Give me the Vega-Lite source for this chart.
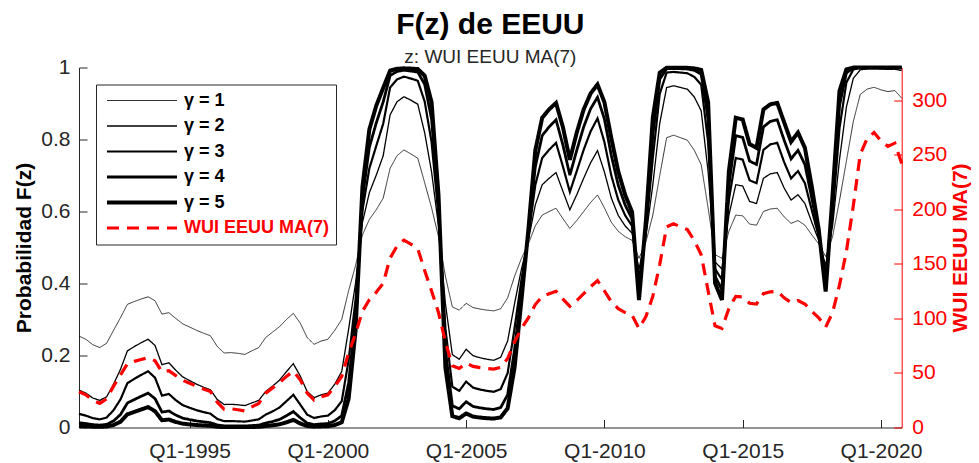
{
"$schema": "https://vega.github.io/schema/vega-lite/v6.json",
"width": 822.7,
"height": 360,
"autosize": {"type": "none"},
"padding": {"left": 79, "top": 67.5, "right": 77.3, "bottom": 35.5},
"background": "white",
"config": {"view": {"stroke": null}, "font": "Liberation Sans"},
"title": {"text": "F(z) de EEUU", "subtitle": "z: WUI EEUU MA(7)", "fontSize": 30, "fontWeight": "bold", "color": "black", "subtitleFontSize": 19, "subtitleColor": "#262626", "anchor": "middle", "offset": -10, "subtitlePadding": 8, "font": "Liberation Sans", "subtitleFont": "Liberation Sans"},
"data": {"values": [
{"t":1991,"g1":0.254,"g2":0.1039,"g3":0.038,"g4":0.0133,"g5":0.0046,"wui":32.8},
{"t":1991.25,"g1":0.245,"g2":0.0953,"g3":0.033,"g4":0.011,"g5":0.0036,"wui":29.9},
{"t":1991.5,"g1":0.23,"g2":0.0819,"g3":0.026,"g4":0.0079,"g5":0.0024,"wui":24.9},
{"t":1991.75,"g1":0.222,"g2":0.0753,"g3":0.0227,"g4":0.0066,"g5":0.0019,"wui":22.1},
{"t":1992,"g1":0.234,"g2":0.0854,"g3":0.0277,"g4":0.0086,"g5":0.0027,"wui":26.2},
{"t":1992.25,"g1":0.27,"g2":0.1204,"g3":0.0482,"g4":0.0184,"g5":0.0069,"wui":37.8},
{"t":1992.5,"g1":0.305,"g2":0.1615,"g3":0.0779,"g4":0.0358,"g5":0.016,"wui":48.2},
{"t":1992.75,"g1":0.342,"g2":0.2127,"g3":0.1231,"g4":0.068,"g5":0.0366,"wui":58.4},
{"t":1993,"g1":0.35,"g2":0.2248,"g3":0.1351,"g4":0.0776,"g5":0.0433,"wui":60.6},
{"t":1993.25,"g1":0.357,"g2":0.2356,"g3":0.1461,"g4":0.0868,"g5":0.0501,"wui":62.4},
{"t":1993.5,"g1":0.363,"g2":0.2452,"g3":0.1562,"g4":0.0954,"g5":0.0567,"wui":64.0},
{"t":1993.75,"g1":0.352,"g2":0.2278,"g3":0.1382,"g4":0.0801,"g5":0.0452,"wui":61.1},
{"t":1994,"g1":0.315,"g2":0.1746,"g3":0.0886,"g4":0.0428,"g5":0.0202,"wui":51.0},
{"t":1994.25,"g1":0.319,"g2":0.1799,"g3":0.0932,"g4":0.0459,"g5":0.0221,"wui":52.1},
{"t":1994.5,"g1":0.303,"g2":0.159,"g3":0.0759,"g4":0.0345,"g5":0.0153,"wui":47.6},
{"t":1994.75,"g1":0.288,"g2":0.1406,"g3":0.0621,"g4":0.0261,"g5":0.0107,"wui":43.3},
{"t":1995,"g1":0.279,"g2":0.1303,"g3":0.0548,"g4":0.0219,"g5":0.0086,"wui":40.6},
{"t":1995.25,"g1":0.27,"g2":0.1204,"g3":0.0482,"g4":0.0184,"g5":0.0069,"wui":37.8},
{"t":1995.5,"g1":0.262,"g2":0.1119,"g3":0.0428,"g4":0.0156,"g5":0.0056,"wui":35.3},
{"t":1995.75,"g1":0.255,"g2":0.1049,"g3":0.0386,"g4":0.0135,"g5":0.0047,"wui":33.1},
{"t":1996,"g1":0.225,"g2":0.0777,"g3":0.0239,"g4":0.0071,"g5":0.0021,"wui":23.2},
{"t":1996.25,"g1":0.207,"g2":0.0638,"g3":0.0175,"g4":0.0046,"g5":0.0012,"wui":16.7},
{"t":1996.5,"g1":0.208,"g2":0.0645,"g3":0.0178,"g4":0.0047,"g5":0.0012,"wui":17.1},
{"t":1996.75,"g1":0.206,"g2":0.0631,"g3":0.0172,"g4":0.0045,"g5":0.0012,"wui":16.3},
{"t":1997,"g1":0.203,"g2":0.0609,"g3":0.0163,"g4":0.0042,"g5":0.0011,"wui":15.2},
{"t":1997.25,"g1":0.213,"g2":0.0682,"g3":0.0194,"g4":0.0053,"g5":0.0015,"wui":18.9},
{"t":1997.5,"g1":0.222,"g2":0.0753,"g3":0.0227,"g4":0.0066,"g5":0.0019,"wui":22.1},
{"t":1997.75,"g1":0.25,"g2":0.1,"g3":0.0357,"g4":0.0122,"g5":0.0041,"wui":31.5},
{"t":1998,"g1":0.265,"g2":0.115,"g3":0.0448,"g4":0.0166,"g5":0.0061,"wui":36.3},
{"t":1998.25,"g1":0.28,"g2":0.1314,"g3":0.0555,"g4":0.0224,"g5":0.0088,"wui":40.9},
{"t":1998.5,"g1":0.3,"g2":0.1552,"g3":0.073,"g4":0.0326,"g5":0.0143,"wui":46.8},
{"t":1998.75,"g1":0.317,"g2":0.1772,"g3":0.0909,"g4":0.0443,"g5":0.0211,"wui":51.6},
{"t":1999,"g1":0.29,"g2":0.143,"g3":0.0638,"g4":0.0271,"g5":0.0112,"wui":43.8},
{"t":1999.25,"g1":0.25,"g2":0.1,"g3":0.0357,"g4":0.0122,"g5":0.0041,"wui":31.5},
{"t":1999.5,"g1":0.231,"g2":0.0828,"g3":0.0264,"g4":0.0081,"g5":0.0024,"wui":25.2},
{"t":1999.75,"g1":0.24,"g2":0.0907,"g3":0.0305,"g4":0.0098,"g5":0.0031,"wui":28.2},
{"t":2000,"g1":0.245,"g2":0.0953,"g3":0.033,"g4":0.011,"g5":0.0036,"wui":29.9},
{"t":2000.25,"g1":0.27,"g2":0.1204,"g3":0.0482,"g4":0.0184,"g5":0.0069,"wui":37.8},
{"t":2000.5,"g1":0.3,"g2":0.1552,"g3":0.073,"g4":0.0326,"g5":0.0143,"wui":46.8},
{"t":2000.75,"g1":0.38,"g2":0.2731,"g3":0.1871,"g4":0.1236,"g5":0.0796,"wui":68.4},
{"t":2001,"g1":0.45,"g2":0.401,"g3":0.3539,"g4":0.3094,"g5":0.2683,"wui":85.9},
{"t":2001.25,"g1":0.535,"g2":0.5697,"g3":0.6036,"g4":0.6366,"g5":0.6684,"wui":106.6},
{"t":2001.5,"g1":0.578,"g2":0.6523,"g3":0.7199,"g4":0.7787,"g5":0.8282,"wui":117.2},
{"t":2001.75,"g1":0.605,"g2":0.7011,"g3":0.7823,"g4":0.8462,"g5":0.8939,"wui":123.9},
{"t":2002,"g1":0.637,"g2":0.7549,"g3":0.8438,"g4":0.9046,"g5":0.9433,"wui":132.2},
{"t":2002.25,"g1":0.72,"g2":0.8686,"g3":0.9444,"g4":0.9776,"g5":0.9912,"wui":155.3},
{"t":2002.5,"g1":0.755,"g2":0.9047,"g3":0.967,"g4":0.989,"g5":0.9964,"wui":166.3},
{"t":2002.75,"g1":0.771,"g2":0.9189,"g3":0.9745,"g4":0.9923,"g5":0.9977,"wui":171.7},
{"t":2003,"g1":0.76,"g2":0.9093,"g3":0.9695,"g4":0.9902,"g5":0.9969,"wui":168.0},
{"t":2003.25,"g1":0.748,"g2":0.8981,"g3":0.9632,"g4":0.9873,"g5":0.9957,"wui":164.0},
{"t":2003.5,"g1":0.68,"g2":0.8187,"g3":0.9056,"g4":0.9532,"g5":0.9774,"wui":143.8},
{"t":2003.75,"g1":0.61,"g2":0.7098,"g3":0.7928,"g4":0.8568,"g5":0.9035,"wui":125.2},
{"t":2004,"g1":0.53,"g2":0.5598,"g3":0.5892,"g4":0.6179,"g5":0.6459,"wui":105.4},
{"t":2004.25,"g1":0.42,"g2":0.344,"g3":0.2752,"g4":0.2157,"g5":0.1661,"wui":78.5},
{"t":2004.5,"g1":0.335,"g2":0.2024,"g3":0.1134,"g4":0.0605,"g5":0.0314,"wui":56.6},
{"t":2004.75,"g1":0.326,"g2":0.1896,"g3":0.1017,"g4":0.0519,"g5":0.0258,"wui":54.1},
{"t":2005,"g1":0.345,"g2":0.2172,"g3":0.1275,"g4":0.0715,"g5":0.039,"wui":59.2},
{"t":2005.25,"g1":0.333,"g2":0.1995,"g3":0.1107,"g4":0.0585,"g5":0.0301,"wui":56.0},
{"t":2005.5,"g1":0.329,"g2":0.1938,"g3":0.1055,"g4":0.0546,"g5":0.0276,"wui":54.9},
{"t":2005.75,"g1":0.326,"g2":0.1896,"g3":0.1017,"g4":0.0519,"g5":0.0258,"wui":54.1},
{"t":2006,"g1":0.324,"g2":0.1868,"g3":0.0992,"g4":0.0501,"g5":0.0247,"wui":53.5},
{"t":2006.25,"g1":0.33,"g2":0.1952,"g3":0.1067,"g4":0.0556,"g5":0.0282,"wui":55.2},
{"t":2006.5,"g1":0.36,"g2":0.2404,"g3":0.1511,"g4":0.091,"g5":0.0533,"wui":63.2},
{"t":2006.75,"g1":0.42,"g2":0.344,"g3":0.2752,"g4":0.2157,"g5":0.1661,"wui":78.5},
{"t":2007,"g1":0.47,"g2":0.4402,"g3":0.4109,"g4":0.3821,"g5":0.3542,"wui":90.8},
{"t":2007.25,"g1":0.51,"g2":0.52,"g3":0.53,"g4":0.5399,"g5":0.5498,"wui":100.5},
{"t":2007.5,"g1":0.56,"g2":0.6183,"g3":0.6734,"g4":0.724,"g5":0.7695,"wui":112.7},
{"t":2007.75,"g1":0.59,"g2":0.6744,"g3":0.7487,"g4":0.8109,"g5":0.8605,"wui":120.2},
{"t":2008,"g1":0.6,"g2":0.6923,"g3":0.7714,"g4":0.8351,"g5":0.8836,"wui":122.7},
{"t":2008.25,"g1":0.609,"g2":0.7081,"g3":0.7907,"g4":0.8548,"g5":0.9016,"wui":124.9},
{"t":2008.5,"g1":0.58,"g2":0.656,"g3":0.7248,"g4":0.7844,"g5":0.834,"wui":117.7},
{"t":2008.75,"g1":0.553,"g2":0.6048,"g3":0.6544,"g4":0.7008,"g5":0.7434,"wui":111.0},
{"t":2009,"g1":0.575,"g2":0.6467,"g3":0.7123,"g4":0.7701,"g5":0.8193,"wui":116.4},
{"t":2009.25,"g1":0.6,"g2":0.6923,"g3":0.7714,"g4":0.8351,"g5":0.8836,"wui":122.7},
{"t":2009.5,"g1":0.625,"g2":0.7353,"g3":0.8224,"g4":0.8853,"g5":0.9279,"wui":129.1},
{"t":2009.75,"g1":0.646,"g2":0.7691,"g3":0.8587,"g4":0.9173,"g5":0.9529,"wui":134.6},
{"t":2010,"g1":0.61,"g2":0.7098,"g3":0.7928,"g4":0.8568,"g5":0.9035,"wui":125.2},
{"t":2010.25,"g1":0.57,"g2":0.6373,"g3":0.6996,"g4":0.7554,"g5":0.8037,"wui":115.2},
{"t":2010.5,"g1":0.545,"g2":0.5893,"g3":0.6322,"g4":0.673,"g5":0.7114,"wui":109.0},
{"t":2010.75,"g1":0.53,"g2":0.5598,"g3":0.5892,"g4":0.6179,"g5":0.6459,"wui":105.4},
{"t":2011,"g1":0.52,"g2":0.5399,"g3":0.5597,"g4":0.5793,"g5":0.5987,"wui":103.0},
{"t":2011.25,"g1":0.47,"g2":0.4402,"g3":0.4109,"g4":0.3821,"g5":0.3542,"wui":90.8},
{"t":2011.5,"g1":0.515,"g2":0.53,"g3":0.545,"g4":0.5598,"g5":0.5745,"wui":101.7},
{"t":2011.75,"g1":0.59,"g2":0.6744,"g3":0.7487,"g4":0.8109,"g5":0.8605,"wui":120.2},
{"t":2012,"g1":0.7,"g2":0.8448,"g3":0.927,"g4":0.9674,"g5":0.9857,"wui":149.4},
{"t":2012.25,"g1":0.805,"g2":0.9446,"g3":0.986,"g4":0.9966,"g5":0.9992,"wui":184.0},
{"t":2012.5,"g1":0.812,"g2":0.9491,"g3":0.9877,"g4":0.9971,"g5":0.9993,"wui":186.8},
{"t":2012.75,"g1":0.805,"g2":0.9446,"g3":0.986,"g4":0.9966,"g5":0.9992,"wui":184.0},
{"t":2013,"g1":0.798,"g2":0.9398,"g3":0.984,"g4":0.9959,"g5":0.999,"wui":181.4},
{"t":2013.25,"g1":0.77,"g2":0.9181,"g3":0.974,"g4":0.9921,"g5":0.9976,"wui":171.3},
{"t":2013.5,"g1":0.73,"g2":0.8797,"g3":0.9518,"g4":0.9816,"g5":0.9931,"wui":158.4},
{"t":2013.75,"g1":0.61,"g2":0.7098,"g3":0.7928,"g4":0.8568,"g5":0.9035,"wui":125.2},
{"t":2014,"g1":0.48,"g2":0.4601,"g3":0.4403,"g4":0.4206,"g5":0.4013,"wui":93.2},
{"t":2014.25,"g1":0.47,"g2":0.4402,"g3":0.4109,"g4":0.3821,"g5":0.3542,"wui":90.8},
{"t":2014.5,"g1":0.545,"g2":0.5893,"g3":0.6322,"g4":0.673,"g5":0.7114,"wui":109.0},
{"t":2014.75,"g1":0.59,"g2":0.6744,"g3":0.7487,"g4":0.8109,"g5":0.8605,"wui":120.2},
{"t":2015,"g1":0.588,"g2":0.6707,"g3":0.7441,"g4":0.8058,"g5":0.8555,"wui":119.7},
{"t":2015.25,"g1":0.565,"g2":0.6279,"g3":0.6867,"g4":0.74,"g5":0.7871,"wui":113.9},
{"t":2015.5,"g1":0.562,"g2":0.6221,"g3":0.6787,"g4":0.7305,"g5":0.7767,"wui":113.2},
{"t":2015.75,"g1":0.6,"g2":0.6923,"g3":0.7714,"g4":0.8351,"g5":0.8836,"wui":122.7},
{"t":2016,"g1":0.607,"g2":0.7046,"g3":0.7865,"g4":0.8505,"g5":0.8978,"wui":124.4},
{"t":2016.25,"g1":0.609,"g2":0.7081,"g3":0.7907,"g4":0.8548,"g5":0.9016,"wui":124.9},
{"t":2016.5,"g1":0.585,"g2":0.6652,"g3":0.7369,"g4":0.7979,"g5":0.8477,"wui":118.9},
{"t":2016.75,"g1":0.567,"g2":0.6316,"g3":0.6919,"g4":0.7462,"g5":0.7938,"wui":114.4},
{"t":2017,"g1":0.575,"g2":0.6467,"g3":0.7123,"g4":0.7701,"g5":0.8193,"wui":116.4},
{"t":2017.25,"g1":0.562,"g2":0.6221,"g3":0.6787,"g4":0.7305,"g5":0.7767,"wui":113.2},
{"t":2017.5,"g1":0.535,"g2":0.5697,"g3":0.6036,"g4":0.6366,"g5":0.6684,"wui":106.6},
{"t":2017.75,"g1":0.51,"g2":0.52,"g3":0.53,"g4":0.5399,"g5":0.5498,"wui":100.5},
{"t":2018,"g1":0.475,"g2":0.4501,"g3":0.4255,"g4":0.4013,"g5":0.3775,"wui":92.0},
{"t":2018.25,"g1":0.53,"g2":0.5598,"g3":0.5892,"g4":0.6179,"g5":0.6459,"wui":105.4},
{"t":2018.5,"g1":0.63,"g2":0.7435,"g3":0.8316,"g4":0.8937,"g5":0.9347,"wui":130.4},
{"t":2018.75,"g1":0.74,"g2":0.8901,"g3":0.9584,"g4":0.985,"g5":0.9947,"wui":161.5},
{"t":2019,"g1":0.85,"g2":0.9698,"g3":0.9945,"g4":0.999,"g5":0.9998,"wui":203.2},
{"t":2019.25,"g1":0.925,"g2":0.9935,"g3":0.9995,"g4":1.0,"g5":1.0,"wui":250.3},
{"t":2019.5,"g1":0.94,"g2":0.9959,"g3":0.9997,"g4":1.0,"g5":1.0,"wui":264.8},
{"t":2019.75,"g1":0.945,"g2":0.9966,"g3":0.9998,"g4":1.0,"g5":1.0,"wui":270.4},
{"t":2020,"g1":0.938,"g2":0.9956,"g3":0.9997,"g4":1.0,"g5":1.0,"wui":262.7},
{"t":2020.25,"g1":0.933,"g2":0.9949,"g3":0.9996,"g4":1.0,"g5":1.0,"wui":257.7},
{"t":2020.5,"g1":0.936,"g2":0.9953,"g3":0.9997,"g4":1.0,"g5":1.0,"wui":260.7},
{"t":2020.75,"g1":0.915,"g2":0.9915,"g3":0.9992,"g4":0.9999,"g5":1.0,"wui":242.1}
]},
"layer": [
{
"transform": [{"fold": ["g1","g2","g3","g4","g5"], "as": ["serie","valor"]}],
"mark": {"type": "line"},
"encoding": {
"x": {"field": "t", "type": "quantitative", "scale": {"domain": [1991, 2020.75], "nice": false, "zero": false},
 "axis": {"values": [1995,2000,2005,2010,2015,2020], "labelExpr": "'Q1-' + datum.value", "title": null, "grid": false, "domainColor": "#262626", "tickColor": "#262626", "tickSize": -8, "labelPadding": 21, "labelFontSize": 21, "labelColor": "#262626", "labelFont": "Liberation Sans", "labelFlush": false, "labelOverlap": false}},
"y": {"field": "valor", "type": "quantitative", "scale": {"domain": [0, 1], "nice": false},
 "axis": {"values": [0,0.2,0.4,0.6,0.8,1], "format": "~g", "title": "Probabilidad F(z)", "titleFontSize": 21, "titleFontWeight": "bold", "titleColor": "black", "titleFont": "Liberation Sans", "titlePadding": 6, "grid": false, "tickSize": -8, "labelPadding": 17, "labelFontSize": 21, "labelColor": "#262626", "labelFont": "Liberation Sans", "domainColor": "#262626", "tickColor": "#262626", "labelFlush": false}},
"color": {"field": "serie", "type": "nominal", "scale": {"domain": ["g1","g2","g3","g4","g5","wui"], "range": ["#000000","#000000","#000000","#000000","#000000","#ff0000"]},
 "legend": {"orient": "top-left", "offset": 17, "title": null, "fillColor": "white", "strokeColor": "#262626", "padding": 7, "symbolType": "M-1,0H13", "symbolSize": 100, "labelOffset": 63, "labelFontSize": 18, "labelFontWeight": "bold", "labelFont": "Liberation Sans", "labelColor": {"expr": "datum.value == 'wui' ? '#ff0000' : '#000000'"}, "labelExpr": "{'g1':'γ = 1','g2':'γ = 2','g3':'γ = 3','g4':'γ = 4','g5':'γ = 5','wui':'WUI EEUU MA(7)'}[datum.value]", "rowPadding": 7.5, "labelLimit": 0, "direction": "vertical", "columns": 1}},
"strokeWidth": {"field": "serie", "type": "nominal", "scale": {"type": "ordinal", "domain": ["g1","g2","g3","g4","g5","wui"], "range": [0.8,1.3,2.2,2.8,4,3.2]},
 "legend": {"orient": "top-left", "offset": 17, "title": null, "fillColor": "white", "strokeColor": "#262626", "padding": 7, "symbolType": "M-1,0H13", "symbolSize": 100, "labelOffset": 63, "labelFontSize": 18, "labelFontWeight": "bold", "labelFont": "Liberation Sans", "labelColor": {"expr": "datum.value == 'wui' ? '#ff0000' : '#000000'"}, "labelExpr": "{'g1':'γ = 1','g2':'γ = 2','g3':'γ = 3','g4':'γ = 4','g5':'γ = 5','wui':'WUI EEUU MA(7)'}[datum.value]", "rowPadding": 7.5, "labelLimit": 0, "direction": "vertical", "columns": 1}},
"strokeDash": {"field": "serie", "type": "nominal", "scale": {"domain": ["g1","g2","g3","g4","g5","wui"], "range": [[1,0],[1,0],[1,0],[1,0],[1,0],[12,8]]},
 "legend": {"orient": "top-left", "offset": 17, "title": null, "fillColor": "white", "strokeColor": "#262626", "padding": 7, "symbolType": "M-1,0H13", "symbolSize": 100, "labelOffset": 63, "labelFontSize": 18, "labelFontWeight": "bold", "labelFont": "Liberation Sans", "labelColor": {"expr": "datum.value == 'wui' ? '#ff0000' : '#000000'"}, "labelExpr": "{'g1':'γ = 1','g2':'γ = 2','g3':'γ = 3','g4':'γ = 4','g5':'γ = 5','wui':'WUI EEUU MA(7)'}[datum.value]", "rowPadding": 7.5, "labelLimit": 0, "direction": "vertical", "columns": 1}}
}
},
{
"mark": {"type": "line", "color": "#ff0000", "strokeWidth": 3.2, "strokeDash": [12, 8]},
"encoding": {
"x": {"field": "t", "type": "quantitative"},
"y": {"field": "wui", "type": "quantitative", "scale": {"domain": [0, 330], "nice": false},
 "axis": {"orient": "right", "values": [0,50,100,150,200,250,300], "title": "WUI EEUU MA(7)", "titleColor": "#ff0000", "titleFontWeight": "bold", "titleFontSize": 21, "titleFont": "Liberation Sans", "titleAngle": 270, "titlePadding": 24, "labelColor": "#ff0000", "domainColor": "#ff0000", "tickColor": "#ff0000", "tickSize": -8, "labelPadding": 18, "labelFontSize": 21, "labelFont": "Liberation Sans", "grid": false, "labelFlush": false}}
}
}
],
"resolve": {"scale": {"y": "independent"}}
}
